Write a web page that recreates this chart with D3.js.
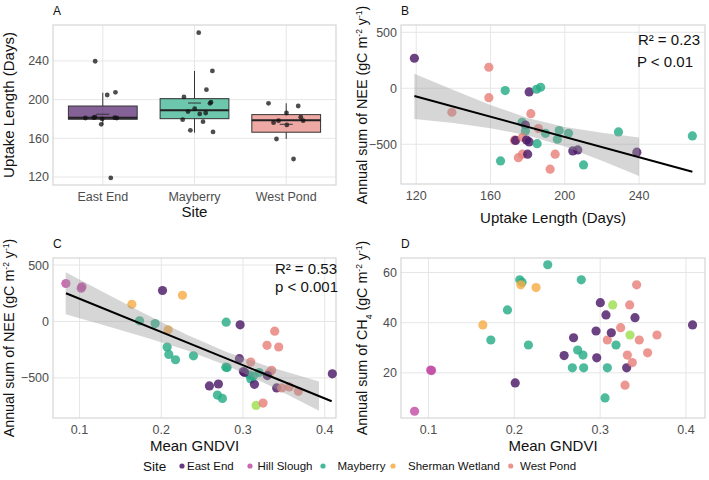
<!DOCTYPE html>
<html><head><meta charset="utf-8">
<script src="https://cdn.jsdelivr.net/npm/d3@7"></script>
<style>
body{margin:0;background:#fff;}
svg{font-family:"Liberation Sans",Arial,sans-serif;}
</style></head><body>
<script>
const W = 709, H = 480;

// ---- panel A: uptake length by site
const aSites = ["East End", "Mayberry", "West Pond"];
const aTicks = [120, 160, 200, 240];
const boxLow  = [174.5, 165.8, 159.3];
const boxQ1   = [179.7, 180.3, 166.3];
const boxMed  = [181.3, 189.0, 178.7];
const boxQ3   = [193.4, 201.0, 184.5];
const boxHigh = [207.2, 229.7, 196.2];
const boxMean = [184.9, 196.5, 174.5];
// jitter offsets (fraction of category step) and values
const aPtSite = ["East End","East End","East End","East End","East End","East End","East End","East End","East End","East End","East End",
  "Mayberry","Mayberry","Mayberry","Mayberry","Mayberry","Mayberry","Mayberry","Mayberry","Mayberry","Mayberry","Mayberry","Mayberry","Mayberry","Mayberry",
  "West Pond","West Pond","West Pond","West Pond","West Pond","West Pond","West Pond","West Pond","West Pond","West Pond"];
const aPtJit = [-0.083,0.048,0.138,-0.19,-0.098,-0.085,-0.007,-0.017,0.13,0.153,0.087,
  0.046,0.195,0.13,-0.115,0.18,0.169,0.002,-0.071,0.057,0.122,-0.129,0.093,-0.045,0.202,
  -0.193,0.131,0.003,0.159,0.185,-0.084,-0.138,0.007,-0.106,0.08];
const aPtDays = [239.7,204.8,207.6,181,181.3,182,180,174.5,181.3,181,119,
  269.3,229.7,210.3,202.8,197.3,196.2,190.7,187.6,185.2,186.2,179.3,177.2,168.3,166.6,
  196.2,193.4,186.2,181.8,178.2,178.2,176.2,173.8,159.3,138.6];

// ---- panel B: NEE vs uptake length
const bSite = ["East End","West Pond","Mayberry","East End","Mayberry","Mayberry","West Pond","West Pond","West Pond","Mayberry",
  "East End","Mayberry","West Pond","Mayberry","Mayberry","Mayberry","Mayberry","West Pond","East End","West Pond",
  "East End","East End","Mayberry","West Pond","East End","West Pond","Mayberry","West Pond","West Pond","Mayberry",
  "Mayberry","East End","East End","East End","Mayberry"];
const bDays = [119,159.1,167.9,180.8,184.8,187,159.1,139.2,181.7,177,
  178.8,178.8,185.8,189.6,197,202,196,172.9,173.5,177.2,
  179.4,180.8,185.1,177.2,180,175,165.4,192.1,194.8,228.9,
  268.7,204.3,207,238.8,210.1];
const bNee = [268,187.5,-21,-33,-9,9,-84,-214,-227,-304,
  -328,-381,-360,-402,-378,-402,-455,-464,-466,-438,
  -462,-479,-495,-589,-589,-620,-649,-723,-589,-390,
  -426,-560,-551,-571,-685];
const bFitX = [119, 268.7], bFitY = [-69, -745];
const bBandX  = [119, 140, 160, 180, 200, 220, 240];
const bBandLo = [-275, -311, -357, -421, -521, -647, -784];
const bBandHi = [130, -16, -149, -265, -345, -398, -440];

// ---- panel C: NEE vs GNDVI
const cSite = ["Hill Slough","Hill Slough","Hill Slough","East End","Sherman Wetland","Sherman Wetland","Mayberry","Mayberry","Sherman Wetland","Mayberry",
  "East End","Mayberry","Mayberry","Mayberry","Mayberry","Mayberry","Mayberry","East End","East End","West Pond",
  "Mayberry","Mayberry","Mayberry","East End","East End","East End","Mayberry","Mayberry","NA","West Pond",
  "West Pond","West Pond","West Pond","West Pond","West Pond","East End","East End","West Pond","West Pond","West Pond",
  "East End","East End","Mayberry"];
const cGndvi = [0.0833,0.1029,0.102,0.2015,0.2259,0.164,0.1734,0.1925,0.2084,0.2794,
  0.2965,0.2072,0.2092,0.2174,0.2394,0.2806,0.279,0.2956,0.3005,0.3095,
  0.3078,0.3095,0.3197,0.314,0.2589,0.2699,0.2687,0.2748,0.316,0.3245,
  0.3388,0.3294,0.3437,0.3351,0.3323,0.3298,0.3412,0.3473,0.3567,0.3677,
  0.4093,0.302,0.3125];
const cNee = [336,307,295,274,232,152,6,-18,-74,-6,
  -30,-226,-292,-339,-304,-408,-405,-330,-443,-360,
  -473,-509,-452,-557,-571,-554,-652,-682,-744,-723,
  -86,-211,-226,-432,-455,-479,-589,-589,-580,-619,
  -464,-452,-485];
const cFitX = [0.0834, 0.4085], cFitY = [250, -707];
const cBandX  = [0.083, 0.13, 0.18, 0.23, 0.28, 0.33, 0.393];
const cBandLo = [64, -33, -139, -252, -389, -558, -791];
const cBandHi = [436, 256, 68, -113, -271, -396, -531];

// ---- panel D: CH4 vs GNDVI
const dSite = ["Hill Slough","Hill Slough","Hill Slough","East End","Mayberry","Sherman Wetland","Mayberry","Mayberry","Mayberry","Sherman Wetland",
  "Sherman Wetland","Mayberry","Mayberry","Mayberry","East End","East End","Mayberry","Mayberry","Mayberry","Mayberry",
  "East End","East End","East End","East End","Mayberry","Mayberry","West Pond","East End","NA","Mayberry",
  "West Pond","West Pond","East End","West Pond","NA","West Pond","West Pond","East End","West Pond","West Pond",
  "West Pond","West Pond","East End"];
const dGndvi = [0.0837,0.1035,0.1025,0.201,0.1726,0.1633,0.192,0.2063,0.209,0.2075,
  0.2253,0.2389,0.2164,0.278,0.258,0.269,0.2738,0.28,0.2676,0.2808,
  0.2952,0.296,0.3002,0.3068,0.3057,0.3084,0.3084,0.313,0.3146,0.3185,
  0.3239,0.329,0.3309,0.3317,0.3348,0.3344,0.3375,0.3406,0.3425,0.3456,
  0.3553,0.3662,0.4077];
const dCh4 = [4.7,20.9,21.1,16,33.1,39.1,45.1,57.1,56.1,55.1,
  54,63.1,31.1,57.1,26.9,34,29.1,27.1,22,22,
  36.7,26,48,43.1,10,22,33.1,36,47.1,31.1,
  38,15.1,22,27.1,35.1,47.1,24.1,42,55.1,33.1,
  28,35.1,39.1];

const legendSites = ["East End", "Hill Slough", "Mayberry", "Sherman Wetland", "West Pond"];
const siteColor = {
  "East End": "#4a1867", "Hill Slough": "#c24da6", "Mayberry": "#27ad86",
  "Sherman Wetland": "#f6ac45", "West Pond": "#e8807a", "NA": "#9ede50"
};

const svg = d3.select("body").append("svg").attr("width", W).attr("height", H);

const panels = {
  A: {x0: 53, x1: 336, y0: 25, y1: 185},
  B: {x0: 401, x1: 705, y0: 25, y1: 184},
  C: {x0: 53, x1: 336, y0: 258, y1: 418},
  D: {x0: 401, x1: 705, y0: 258, y1: 418}
};

function frame(p, label, x, y, xTicks, yTicks, xFmt, yFmt) {
  let g = svg.append("g");
  g.selectAll(".gx").data(xTicks).enter().append("line")
    .attr("x1", d => x(d)).attr("x2", d => x(d)).attr("y1", p.y0).attr("y2", p.y1)
    .attr("stroke", "#e6e6e6").attr("stroke-width", 1);
  g.selectAll(".gy").data(yTicks).enter().append("line")
    .attr("y1", d => y(d)).attr("y2", d => y(d)).attr("x1", p.x0).attr("x2", p.x1)
    .attr("stroke", "#e6e6e6").attr("stroke-width", 1);
  g.append("rect").attr("x", p.x0).attr("y", p.y0)
    .attr("width", p.x1 - p.x0).attr("height", p.y1 - p.y0)
    .attr("fill", "none").attr("stroke", "#d6d6d6").attr("stroke-width", 1.2);
  g.selectAll(".tx").data(xTicks).enter().append("text")
    .attr("x", d => x(d)).attr("y", p.y1 + 16).attr("text-anchor", "middle")
    .attr("font-size", 12.5).attr("fill", "#4d4d4d").text(xFmt);
  g.selectAll(".ty").data(yTicks).enter().append("text")
    .attr("x", p.x0 - 4).attr("y", d => y(d) + 4.5).attr("text-anchor", "end")
    .attr("font-size", 12.5).attr("fill", "#4d4d4d").text(yFmt);
  svg.append("text").attr("x", p.x0).attr("y", p.y0 - 10.5)
    .attr("font-size", 12).attr("fill", "#111").text(label);
  return g;
}

function xTitle(p, txt, yy) {
  svg.append("text").attr("x", (p.x0 + p.x1) / 2).attr("y", yy)
    .attr("text-anchor", "middle").attr("font-size", 15).attr("fill", "#111").text(txt);
}

function yTitle(cx, cy, parts, fs) {
  let t = svg.append("text").attr("transform", `translate(${cx},${cy}) rotate(-90)`)
    .attr("text-anchor", "middle").attr("font-size", fs || 15).attr("fill", "#111");
  parts.forEach(pt => {
    let s = t.append("tspan").text(pt.t);
    if (pt.sup) s.attr("baseline-shift", "super").attr("font-size", 8.5);
    if (pt.sub) s.attr("baseline-shift", "sub").attr("font-size", 8.5);
  });
}

// ---------- A
(function () {
  let p = panels.A;
  let x = d3.scalePoint().domain(aSites).range([p.x0, p.x1]).padding(0.543);
  let y = d3.scaleLinear().domain([111.7, 277.2]).range([p.y1, p.y0]);
  frame(p, "A", x, y, aSites, aTicks, d => d, d => d);
  let bw = x.step() * 0.75;
  let g = svg.append("g");
  aSites.forEach((s, i) => {
    let cx = x(s);
    g.append("line").attr("x1", cx).attr("x2", cx).attr("y1", y(boxHigh[i])).attr("y2", y(boxQ3[i]))
      .attr("stroke", "#333").attr("stroke-width", 1);
    g.append("line").attr("x1", cx).attr("x2", cx).attr("y1", y(boxQ1[i])).attr("y2", y(boxLow[i]))
      .attr("stroke", "#333").attr("stroke-width", 1);
    g.append("rect").attr("x", cx - bw / 2).attr("width", bw)
      .attr("y", y(boxQ3[i])).attr("height", y(boxQ1[i]) - y(boxQ3[i]))
      .attr("fill", siteColor[s]).attr("fill-opacity", 0.68)
      .attr("stroke", "#333").attr("stroke-width", 1);
    g.append("line").attr("x1", cx - bw / 2).attr("x2", cx + bw / 2)
      .attr("y1", y(boxMed[i])).attr("y2", y(boxMed[i]))
      .attr("stroke", "#222").attr("stroke-width", 2);
  });
  g.selectAll(".pt").data(aPtDays).enter().append("circle")
    .attr("cx", (d, i) => x(aPtSite[i]) + aPtJit[i] * x.step())
    .attr("cy", d => y(d)).attr("r", 2.4)
    .attr("fill", "#111").attr("fill-opacity", 0.75);
  aSites.forEach((s, i) => {
    g.append("line").attr("x1", x(s) - 6.5).attr("x2", x(s) + 6.5)
      .attr("y1", y(boxMean[i])).attr("y2", y(boxMean[i]))
      .attr("stroke", "#333").attr("stroke-width", 1);
  });
  xTitle(p, "Site", 217);
  yTitle(14, (p.y0 + p.y1) / 2, [{t: "Uptake Length (Days)"}]);
})();

function scatter(p, x, y, xs, ys, sites) {
  svg.append("g").selectAll("circle").data(xs).enter().append("circle")
    .attr("cx", d => x(d)).attr("cy", (d, i) => y(ys[i])).attr("r", 4.6)
    .attr("fill", (d, i) => siteColor[sites[i]]).attr("fill-opacity", 0.82);
}

function band(x, y, bx, lo, hi) {
  let area = d3.area().x(d => x(d)).y0((d, i) => y(lo[i])).y1((d, i) => y(hi[i]));
  svg.append("path").attr("d", area(bx)).attr("fill", "#999").attr("fill-opacity", 0.4);
}

function fitLine(x, y, fx, fy) {
  let line = d3.line().x(d => x(d)).y((d, i) => y(fy[i]));
  svg.append("path").attr("d", line(fx)).attr("fill", "none")
    .attr("stroke", "#000").attr("stroke-width", 2);
}

const neeLabel = [{t: "Annual sum of NEE (gC m"}, {t: "-2", sup: true}, {t: " y"}, {t: "-1", sup: true}, {t: ")"}];
const minus = d => String(d).replace("-", "\u2212");

// ---------- B
(function () {
  let p = panels.B;
  let x = d3.scaleLinear().domain([111.8, 275.5]).range([p.x0, p.x1]);
  let y = d3.scaleLinear().domain([-855, 565]).range([p.y1, p.y0]);
  frame(p, "B", x, y, [120, 160, 200, 240], [-500, 0, 500], d => d, minus);
  scatter(p, x, y, bDays, bNee, bSite);
  band(x, y, bBandX, bBandLo, bBandHi);
  fitLine(x, y, bFitX, bFitY);
  svg.append("text").attr("x", 700).attr("y", 45).attr("text-anchor", "end")
    .attr("font-size", 15).attr("fill", "#111").text("R\u00b2 = 0.23");
  svg.append("text").attr("x", 693).attr("y", 67).attr("text-anchor", "end")
    .attr("font-size", 15).attr("fill", "#111").text("P < 0.01");
  xTitle(p, "Uptake Length (Days)", 223);
  yTitle(367, 105, neeLabel, 14.3);
})();

// ---------- C
(function () {
  let p = panels.C;
  let x = d3.scaleLinear().domain([0.0675, 0.4138]).range([p.x0, p.x1]);
  let y = d3.scaleLinear().domain([-855, 562]).range([p.y1, p.y0]);
  frame(p, "C", x, y, [0.1, 0.2, 0.3, 0.4], [-500, 0, 500], d => d3.format(".1f")(d), minus);
  scatter(p, x, y, cGndvi, cNee, cSite);
  band(x, y, cBandX, cBandLo, cBandHi);
  fitLine(x, y, cFitX, cFitY);
  svg.append("text").attr("x", 337).attr("y", 274).attr("text-anchor", "end")
    .attr("font-size", 15).attr("fill", "#111").text("R\u00b2 = 0.53");
  svg.append("text").attr("x", 338).attr("y", 292).attr("text-anchor", "end")
    .attr("font-size", 15).attr("fill", "#111").text("p < 0.001");
  xTitle(p, "Mean GNDVI", 451);
  yTitle(13.5, 338, neeLabel, 14.3);
})();

// ---------- D
(function () {
  let p = panels.D;
  let x = d3.scaleLinear().domain([0.0679, 0.4222]).range([p.x0, p.x1]);
  let y = d3.scaleLinear().domain([2.0, 65.8]).range([p.y1, p.y0]);
  frame(p, "D", x, y, [0.1, 0.2, 0.3, 0.4], [20, 40, 60], d => d3.format(".1f")(d), d => d);
  scatter(p, x, y, dGndvi, dCh4, dSite);
  xTitle(p, "Mean GNDVI", 451);
  yTitle(367, 338, [{t: "Annual sum of CH"}, {t: "4", sub: true}, {t: " (gC m"}, {t: "-2", sup: true}, {t: " y"}, {t: "-1", sup: true}, {t: ")"}], 14.3);
})();

// ---------- legend
const legendDotX = [182, 250, 323, 393, 510.7];
const legendTextX = [187, 257.5, 337.5, 408, 520];
const legY = 466;
svg.append("text").attr("x", 143).attr("y", legY + 4.5).attr("font-size", 13.5).attr("fill", "#111").text("Site");
legendSites.forEach((s, i) => {
  svg.append("circle").attr("cx", legendDotX[i]).attr("cy", legY).attr("r", 2.6)
    .attr("fill", siteColor[s]).attr("fill-opacity", 0.85);
  svg.append("text").attr("x", legendTextX[i]).attr("y", legY + 4.2).attr("font-size", 11.5)
    .attr("fill", "#111").text(s);
});
</script>
</body></html>
